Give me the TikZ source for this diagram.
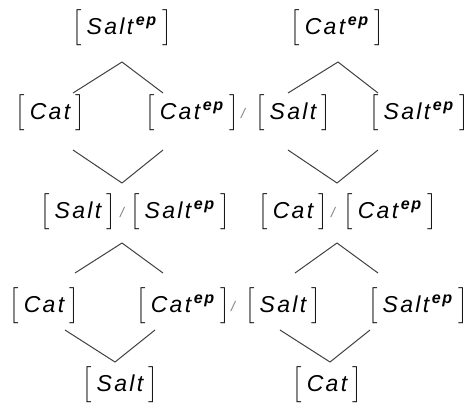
\documentclass[tikz,border=0pt]{standalone}
\usepackage{fontspec}
\setmainfont{Liberation Sans}
\newfontfamily\lblfont[LetterSpace=10]{Liberation Sans}
\newcommand{\brk}[1]{$\Big[$\hspace{2.5pt}{\lblfont\itshape #1}\hspace{2.5pt}$\Big]$}
\newcommand{\epx}{\textsuperscript{\bfseries\,ep}}
\begin{document}
\begin{tikzpicture}[x=0.5pt,y=-0.5pt,
  lbl/.style={inner sep=0pt,font=\fontsize{11.5}{13}\selectfont},
  sl/.style={inner sep=0pt,font=\fontsize{7}{8}\selectfont\itshape,text=gray},
  edge/.style={draw=black!75,line width=0.5pt}]
\useasboundingbox (0,0) rectangle (474,407);
% row 1
\node[lbl] (t1) at (122,28) {\brk{Salt\epx}};
\node[lbl] (t2) at (337,28) {\brk{Cat\epx}};
% row 2
\node[lbl] (a1) at (50,113) {\brk{Cat}};
\node[lbl] (a2) at (192,113) {\brk{Cat\epx}};
\node[sl] (s1) at (243,113) {/};
\node[lbl] (a3) at (293,113) {\brk{Salt}};
\node[lbl] (a4) at (419,113) {\brk{Salt\epx}};
% row 3
\node[lbl] (b1) at (78,212) {\brk{Salt}};
\node[sl] (sA) at (122,212) {/};
\node[lbl] (b2) at (180,212) {\brk{Salt\epx}};
\node[lbl] (b3) at (293,212) {\brk{Cat}};
\node[sl] (sB) at (333,212) {/};
\node[lbl] (b4) at (390,212) {\brk{Cat\epx}};
% row 4
\node[lbl] (c1) at (44,306) {\brk{Cat}};
\node[lbl] (c2) at (183,306) {\brk{Cat\epx}};
\node[sl] (s4) at (233,306) {/};
\node[lbl] (c3) at (283,306) {\brk{Salt}};
\node[lbl] (c4) at (418,306) {\brk{Salt\epx}};
% row 5
\node[lbl] (d1) at (120,385) {\brk{Salt}};
\node[lbl] (d2) at (327,385) {\brk{Cat}};
% row 1 -> 2
\draw[edge] ([shift={(0,34)}]t1.center) -- ([shift={(23,-20)}]a1.center);
\draw[edge] ([shift={(0,34)}]t1.center) -- ([shift={(-29,-20)}]a2.center);
\draw[edge] ([shift={(1,34)}]t2.center) -- ([shift={(-5,-20)}]a3.center);
\draw[edge] ([shift={(1,34)}]t2.center) -- ([shift={(-41,-20)}]a4.center);
% row 2 -> 3
\draw[edge] ([shift={(23,37)}]a1.center) -- ([shift={(0,-29)}]sA.center);
\draw[edge] ([shift={(-29,37)}]a2.center) -- ([shift={(0,-29)}]sA.center);
\draw[edge] ([shift={(-5,37)}]a3.center) -- ([shift={(4,-29)}]sB.center);
\draw[edge] ([shift={(-41,37)}]a4.center) -- ([shift={(4,-29)}]sB.center);
% row 3 -> 4
\draw[edge] ([shift={(0,31)}]sA.center) -- ([shift={(31,-33)}]c1.center);
\draw[edge] ([shift={(0,31)}]sA.center) -- ([shift={(-20,-33)}]c2.center);
\draw[edge] ([shift={(4,31)}]sB.center) -- ([shift={(12,-33)}]c3.center);
\draw[edge] ([shift={(4,31)}]sB.center) -- ([shift={(-40,-33)}]c4.center);
% row 4 -> 5
\draw[edge] ([shift={(21,24)}]c1.center) -- ([shift={(-5,-23)}]d1.center);
\draw[edge] ([shift={(-28,24)}]c2.center) -- ([shift={(-5,-23)}]d1.center);
\draw[edge] ([shift={(-3,24)}]c3.center) -- ([shift={(3,-23)}]d2.center);
\draw[edge] ([shift={(-48,24)}]c4.center) -- ([shift={(3,-23)}]d2.center);
\end{tikzpicture}
\end{document}
